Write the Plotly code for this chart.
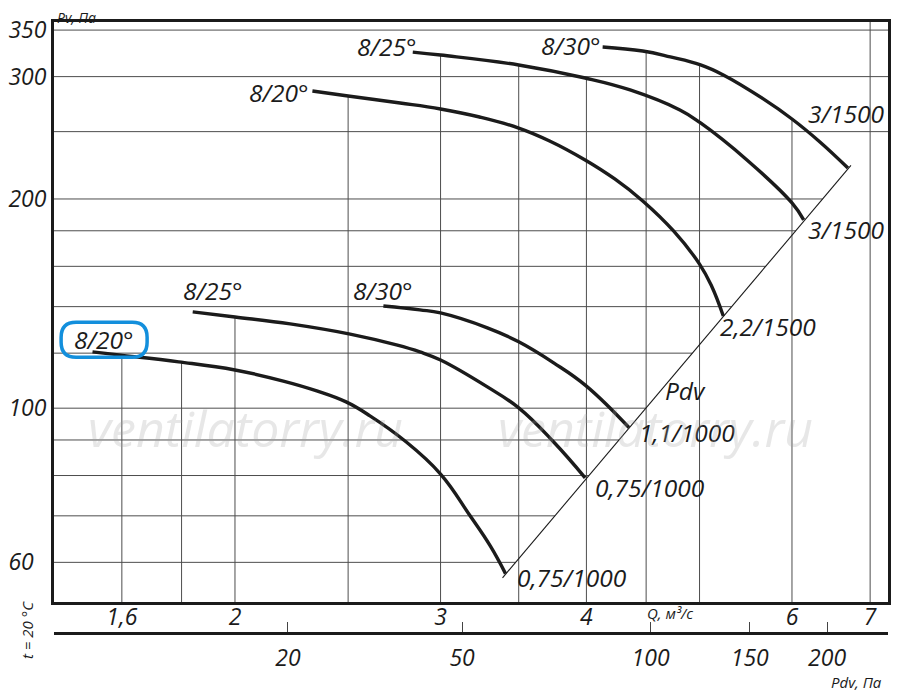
import numpy as np
import plotly.graph_objects as go

# ---------------- data ----------------
# lower family (1000 rpm motors)
q_l20 = [1.51, 1.59, 1.79, 2.0, 2.2, 2.35, 2.49, 2.61, 2.79, 3.0, 3.18, 3.31, 3.41]
p_l20 = [120.5, 119.3, 116.6, 113.5, 109.4, 105.9, 102.1, 97.5, 90.0, 80.4, 70.0, 63.3, 57.8]
q_l25 = [1.84, 2.0, 2.23, 2.51, 2.75, 2.88, 3.0, 3.29, 3.5, 3.75, 3.99]
p_l25 = [137.6, 135.3, 132.2, 127.8, 123.3, 120.5, 117.3, 107.3, 100.1, 89.4, 79.4]
q_l30 = [2.68, 2.88, 3.0, 3.29, 3.5, 3.75, 4.0, 4.35]
p_l30 = [140.3, 138.5, 137.1, 130.5, 124.6, 116.2, 107.6, 93.8]
# upper family (1500 rpm motors)
q_u20 = [2.33, 2.5, 2.77, 3.0, 3.24, 3.5, 3.72, 3.99, 4.23, 4.47, 4.75, 5.0, 5.12, 5.24]
p_u20 = [286.0, 281.3, 274.9, 269.5, 262.4, 253.0, 242.4, 227.6, 213.7, 198.7, 179.9, 161.2, 149.9, 135.7]
q_u25 = [2.84, 3.0, 3.5, 3.99, 4.36, 4.81, 5.01, 5.49, 6.0, 6.14]
p_u25 = [325.4, 322.2, 311.8, 298.6, 287.0, 268.6, 257.3, 227.6, 197.4, 186.6]
q_u30 = [4.13, 4.47, 4.72, 5.01, 5.24, 5.67, 6.0, 6.34, 6.70]
p_u30 = [331.0, 326.6, 320.2, 311.8, 301.6, 278.6, 260.7, 241.6, 221.6]

# dynamic pressure line (Pdv) end points
pdv_line_q = [3.39, 6.74]
pdv_line_p = [57.0, 223.5]

# axes / ticks
q_ticks = [1.6, 2, 3, 4, 6, 7]
q_tick_text = ["1,6", "2", "3", "4", "6", "7"]
p_ticks = [60, 100, 200, 300, 350]
p_tick_text = ["60\u2007", "100", "200", "300", "350"]
q_grid = [1.6, 1.8, 2, 2.5, 3, 3.5, 4, 4.5, 5, 6, 7]
p_grid = [60, 70, 80, 90, 100, 120, 140, 160, 180, 200, 250, 300, 350]
pdv_tick_text = ["20", "50", "100", "150", "200"]
pdv_tick_q = [2.22, 3.13, 4.54, 5.52, 6.43]

# curve labels: text, Q, Pv, anchor
curve_labels = [
    ("8/20°", 2.323, 284.2, "right"),
    ("8/25°", 2.875, 331.0, "right"),
    ("8/30°", 4.133, 333.0, "right"),
    ("3/1500", 6.168, 265.1, "left"),
    ("3/1500", 6.168, 180.5, "left"),
    ("2,2/1500", 5.185, 130.9, "left"),
    ("Pdv", 4.653, 106.2, "left"),
    ("1,1/1000", 4.420, 92.4, "left"),
    ("0,75/1000", 4.052, 77.0, "left"),
    ("0,75/1000", 3.474, 57.0, "left"),
    ("8/25°", 2.040, 147.5, "right"),
    ("8/30°", 2.852, 147.5, "right"),
    ("8/20°", 1.545, 125.4, "center"),
]
highlight_index = 12

# ---------------- layout constants ----------------
# the page is shown with an 8 px body margin, so the figure is drawn 8 px smaller
W, H = 892, 686
ML, MR, MT, MB = 46, 12, 14, 61
PW, PH = W - ML - MR, H - MT - MB
X_RANGE = [0.1460, 0.8604]
Y_RANGE = [1.7211, 2.5557]
Y_DOM0 = 31 / PH
REF_LEFT, REF_BOTTOM = 54, 633   # plot-left and paper-bottom in screen pixels


def px_x(sx):
    return (sx - REF_LEFT) / PW


def px_y(sy):
    return (REF_BOTTOM - sy) / PH


FONT = "Open Sans"
INK = "#1b1b1b"
GRID = "#4d4d4d"

curves = [(q_l20, p_l20), (q_l25, p_l25), (q_l30, p_l30),
          (q_u20, p_u20), (q_u25, p_u25), (q_u30, p_u30)]

fig = go.Figure()


# ---- grid lines (vertical stop at the upper envelope of the curves) ----
def envelope(q):
    tops = []
    for qs, ps in curves:
        if qs[0] <= q <= qs[-1]:
            tops.append(10 ** np.interp(np.log10(q), np.log10(qs), np.log10(ps)))
    return max(tops) if tops else 10 ** Y_RANGE[1]


vx, vy = [], []
for q in q_grid:
    vx += [q, q, None]
    vy += [10 ** Y_RANGE[0], envelope(q), None]

hx, hy = [], []
for p in p_grid:
    if pdv_line_p[0] <= p <= pdv_line_p[1]:
        qe = 10 ** np.interp(np.log10(p), np.log10(pdv_line_p), np.log10(pdv_line_q))
    else:
        qe = 10 ** X_RANGE[1]
    hx += [10 ** X_RANGE[0], qe, None]
    hy += [p, p, None]

fig.add_trace(go.Scatter(x=vx, y=vy, mode="lines", line=dict(color=GRID, width=1),
                         hoverinfo="skip", showlegend=False))
fig.add_trace(go.Scatter(x=hx, y=hy, mode="lines", line=dict(color=GRID, width=1),
                         hoverinfo="skip", showlegend=False))

# ---- Pdv line ----
fig.add_trace(go.Scatter(x=pdv_line_q, y=pdv_line_p, mode="lines", xaxis="x2",
                         line=dict(color=INK, width=1.1), hoverinfo="skip", showlegend=False))

# ---- fan curves ----
for qs, ps in curves:
    fig.add_trace(go.Scatter(x=qs, y=ps, mode="lines",
                             line=dict(color=INK, width=3.4, shape="spline", smoothing=1.2),
                             showlegend=False))

# ---- annotations ----
ann = []
lab_font = dict(family=FONT, size=24.5, color=INK, style="italic")
for text, q, p, anchor in curve_labels:
    ann.append(dict(x=np.log10(q), y=np.log10(p), xref="x", yref="y", text=text,
                    showarrow=False, xanchor=anchor, yanchor="middle", font=lab_font))

small = dict(family=FONT, size=15, color=INK, style="italic")
ann.append(dict(x=px_x(55), y=px_y(17), xref="paper", yref="paper", text="Pv, Па",
                showarrow=False, xanchor="left", yanchor="middle",
                font=dict(family=FONT, size=14, color=INK, style="italic")))
ann.append(dict(x=px_x(27), y=px_y(630), xref="paper", yref="paper",
                text="t = 20 °C", textangle=-90, showarrow=False, xanchor="center",
                yanchor="middle", font=small))
ann.append(dict(x=px_x(884), y=px_y(682), xref="paper", yref="paper",
                text="Pdv, Па", showarrow=False, xanchor="right", yanchor="middle", font=small))
ann.append(dict(x=px_x(670), y=px_y(613), xref="paper", yref="paper",
                text="Q, м³/с", showarrow=False, xanchor="center", yanchor="middle", font=small))

wm_font = dict(family=FONT, size=50, color="rgba(160,160,160,0.25)", style="italic")
for cx in (245, 655):
    ann.append(dict(x=px_x(cx), y=px_y(428), xref="paper", yref="paper",
                    text="ventilatorry.ru", showarrow=False, xanchor="center",
                    yanchor="middle", font=wm_font))


# ---- rounded highlight box around one label ----
def to_paper(q, p):
    fx = (np.log10(q) - X_RANGE[0]) / (X_RANGE[1] - X_RANGE[0])
    fy = Y_DOM0 + (1 - Y_DOM0) * (np.log10(p) - Y_RANGE[0]) / (Y_RANGE[1] - Y_RANGE[0])
    return fx, fy


_, hq, hp, _ = curve_labels[highlight_index]
cx, cy = to_paper(hq, hp)
hw, hh, r = 43 / PW, 17.5 / PH, 15
rx, ry = r / PW, r / PH
x0, x1, yb, yt = cx - hw, cx + hw, cy - hh, cy + hh
path = (f"M {x0+rx},{yt} L {x1-rx},{yt} Q {x1},{yt} {x1},{yt-ry} "
        f"L {x1},{yb+ry} Q {x1},{yb} {x1-rx},{yb} L {x0+rx},{yb} "
        f"Q {x0},{yb} {x0},{yb+ry} L {x0},{yt-ry} Q {x0},{yt} {x0+rx},{yt} Z")

tick_font = dict(family=FONT, size=23, color=INK, style="italic")
fig.update_layout(
    width=W, height=H,
    margin=dict(l=ML, r=MR, t=MT, b=MB, autoexpand=False),
    paper_bgcolor="white", plot_bgcolor="white",
    xaxis=dict(type="log", range=X_RANGE, showgrid=False, zeroline=False,
               showline=True, linewidth=3, linecolor=INK, mirror=True,
               tickmode="array", tickvals=q_ticks, ticktext=q_tick_text,
               ticks="", tickfont=tick_font, ticklabelstandoff=-8, automargin=False),
    xaxis2=dict(type="log", range=X_RANGE, overlaying="x", anchor="free", position=0,
                side="bottom", showgrid=False, zeroline=False, showline=True,
                linewidth=3, linecolor=INK, tickmode="array", tickvals=pdv_tick_q,
                ticktext=pdv_tick_text, ticks="inside", ticklen=10, tickwidth=1,
                tickcolor="#444", tickfont=tick_font, ticklabelstandoff=3,
                automargin=False),
    yaxis=dict(type="log", range=Y_RANGE, domain=[Y_DOM0, 1], showgrid=False,
               zeroline=False, showline=True, linewidth=3, linecolor=INK, mirror=True,
               tickmode="array", tickvals=p_ticks, ticktext=p_tick_text,
               ticks="", tickfont=tick_font, automargin=False),
    annotations=ann,
    shapes=[dict(type="path", xref="paper", yref="paper", path=path,
                 line=dict(color="#138fdc", width=3.5))],
    showlegend=False,
)

fig.write_html("out.html")
